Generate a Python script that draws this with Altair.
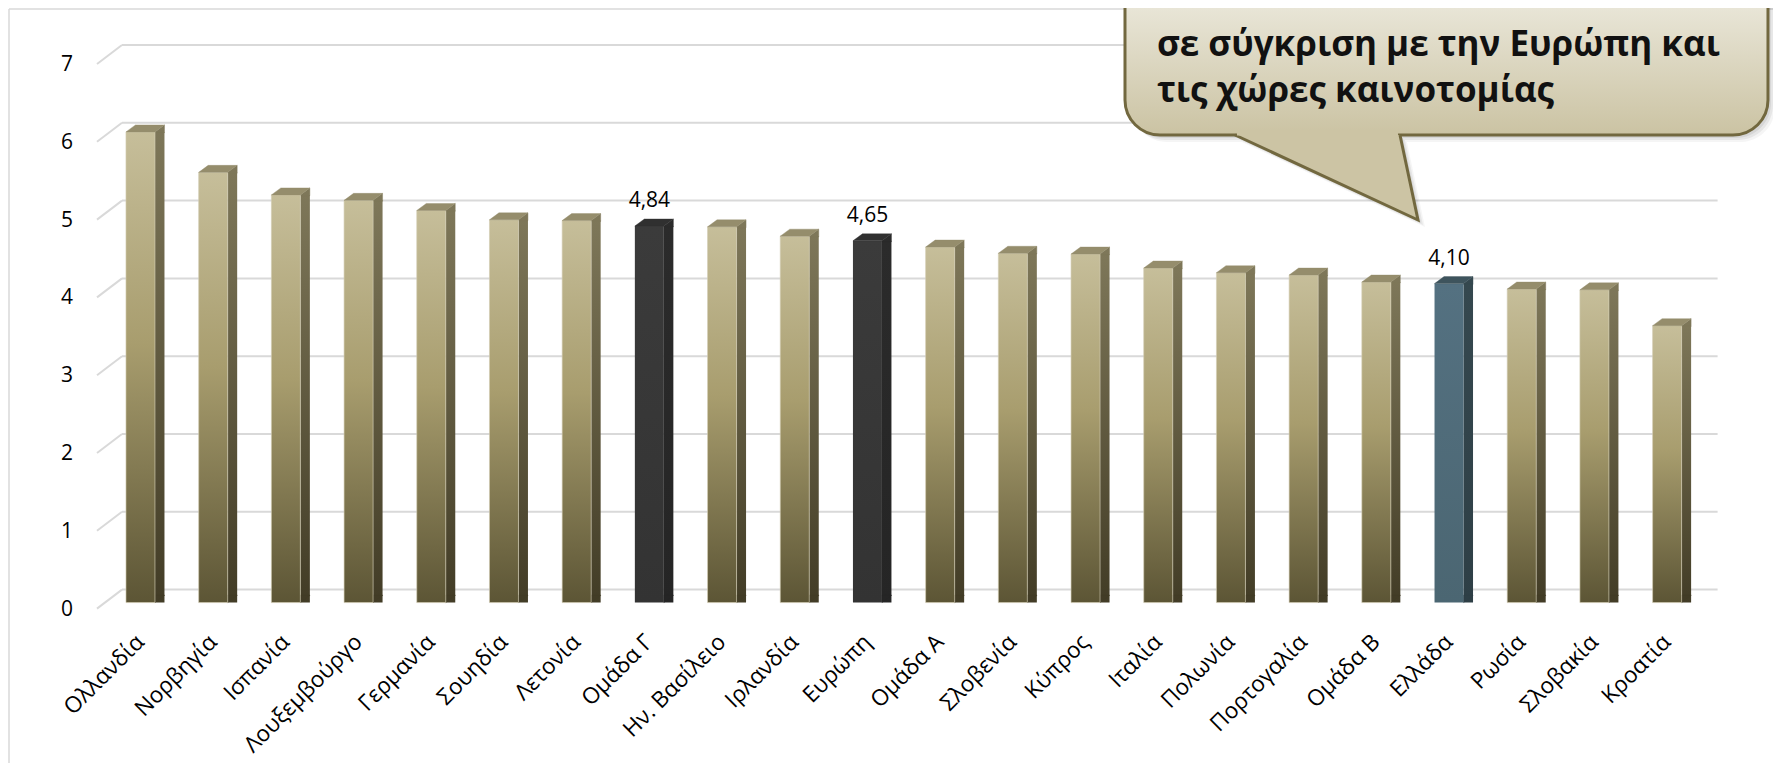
import altair as alt
import pandas as pd

# ---------------- data ----------------
categories = ["Ολλανδία", "Νορβηγία", "Ισπανία", "Λουξεμβούργο", "Γερμανία", "Σουηδία",
              "Λετονία", "Ομάδα Γ", "Ην. Βασίλειο", "Ιρλανδία", "Ευρώπη", "Ομάδα Α",
              "Σλοβενία", "Κύπρος", "Ιταλία", "Πολωνία", "Πορτογαλία", "Ομάδα Β",
              "Ελλάδα", "Ρωσία", "Σλοβακία", "Κροατία"]
values = [6.05, 5.53, 5.24, 5.17, 5.04, 4.92, 4.91, 4.84, 4.83, 4.71, 4.65, 4.57,
          4.49, 4.48, 4.30, 4.24, 4.21, 4.12, 4.10, 4.03, 4.02, 3.56]
kinds = ["country", "country", "country", "country", "country", "country",
         "country", "group", "country", "country", "group", "country",
         "country", "country", "country", "country", "country", "country",
         "greece", "country", "country", "country"]
y_ticks = [0, 1, 2, 3, 4, 5, 6, 7]
callout_lines = ["σε σύγκριση με την Ευρώπη και", "τις χώρες καινοτομίας"]

df = pd.DataFrame({"cat": categories, "value": values, "kind": kinds})
tick_df = pd.DataFrame({"t": y_ticks})
one = pd.DataFrame({"a": [0]})

# ---------------- layout ----------------
W = 1613.6
H = 544.6
FONT = "Open Sans"

kind_domain = ["country", "group", "greece"]
front_stops = {
    "country": [("#c6be9a", 0), ("#a89d6e", 0.45), ("#5c5535", 1)],
    "group": [("#3b3b3b", 0), ("#333333", 1)],
    "greece": [("#547181", 0), ("#4b6672", 1)],
}
side_stops = {
    "country": [("#7e7759", 0), ("#423c26", 1)],
    "group": [("#2b2b2b", 0), ("#252525", 1)],
    "greece": [("#35484f", 0), ("#2e3f46", 1)],
}
top_color = {"country": "#958d6c", "group": "#303030", "greece": "#3e545d"}
side_top_color = {"country": "#7e7759", "group": "#2b2b2b", "greece": "#35484f"}
side_bot_color = {"country": "#423c26", "group": "#252525", "greece": "#2e3f46"}


def grad(stops):
    return {"gradient": "linear", "x1": 0, "y1": 0, "x2": 0, "y2": 1,
            "stops": [{"offset": o, "color": c} for c, o in stops]}


xenc = alt.X("cat:N", sort=None, axis=None,
             scale=alt.Scale(domain=categories, paddingInner=0, paddingOuter=0.098))
yscale = alt.Scale(domain=[0, 7], nice=False, zero=True)
yenc = alt.Y("value:Q", scale=yscale, axis=None)
tick_y = alt.Y("t:Q", scale=yscale, axis=None)

TOP_FACE = "M-0.725,0L0.725,0L1.2,-0.35L-0.25,-0.35Z"
SIDE_TOP = "M0.725,0.04L0.725,0L1.2,-0.35L1.2,0.04Z"
SIDE_BOT = "M0.725,-0.38L1.2,-0.38L1.2,-0.35L0.725,0Z"

layers = []

# back-wall gridlines
layers.append(alt.Chart(tick_df).mark_rule(color="#d9d9d9", strokeWidth=2, yOffset=-13)
              .encode(x=alt.value(25), x2=alt.value(W + 7), y=tick_y))
# side-wall diagonals
layers.append(alt.Chart(tick_df).mark_rule(color="#d9d9d9", strokeWidth=2, yOffset=6, y2Offset=-13)
              .encode(x=alt.value(0), x2=alt.value(25), y=tick_y, y2="t:Q"))
# y labels
layers.append(alt.Chart(tick_df).mark_text(align="right", baseline="middle", dy=7,
                                           fontSize=21, font=FONT, color="#000000")
              .encode(x=alt.value(-24), y=tick_y, text="t:Q"))

for k in kind_domain:
    base = alt.Chart(df).transform_filter(alt.datum.kind == k)
    # side face
    layers.append(base.mark_bar(width=9.5, xOffset=19.25, y2Offset=-7, color=grad(side_stops[k]))
                  .encode(x=xenc, y=yenc))
    layers.append(base.mark_point(shape=SIDE_TOP, size=1600, filled=True, opacity=1,
                                  color=side_top_color[k], stroke=side_top_color[k], strokeWidth=0.4)
                  .encode(x=xenc, y=yenc))
    layers.append(base.transform_calculate(zero="0")
                  .mark_point(shape=SIDE_BOT, size=1600, filled=True, opacity=1,
                              color=side_bot_color[k], stroke=side_bot_color[k], strokeWidth=0.4)
                  .encode(x=xenc, y=alt.Y("zero:Q", scale=yscale, axis=None)))
    # front face
    extra = {}
    if k == "country":
        extra = dict(stroke="#d3cdb3", strokeWidth=0.8, strokeOpacity=0.8)
    layers.append(base.mark_bar(width=29, color=grad(front_stops[k]), **extra)
                  .encode(x=xenc, y=yenc))
    # top face
    layers.append(base.mark_point(shape=TOP_FACE, size=1600, filled=True, opacity=1,
                                  color=top_color[k], stroke=top_color[k], strokeWidth=0.4)
                  .encode(x=xenc, y=yenc))

# value labels
layers.append(alt.Chart(df).transform_filter(alt.datum.kind != "country")
              .transform_calculate(label="replace(format(datum.value, '.2f'), '.', ',')")
              .mark_text(baseline="alphabetic", dy=-19, fontSize=21, font=FONT, color="#000000")
              .encode(x=xenc, y=yenc, text="label:N"))

# category labels
layers.append(alt.Chart(df).mark_text(angle=315, align="right", baseline="middle",
                                      fontSize=22.5, font=FONT, color="#000000")
              .encode(x=xenc, y=alt.value(H + 36), text="cat:N"))

# outer frame
layers.append(alt.Chart(one).mark_rule(color="#d9d9d9", strokeWidth=1.5)
              .encode(x=alt.value(-88), y=alt.value(-49), y2=alt.value(H + 200)))
layers.append(alt.Chart(one).mark_rule(color="#d9d9d9", strokeWidth=1.5)
              .encode(x=alt.value(-88), x2=alt.value(W + 80), y=alt.value(-49)))

# callout shadow
BX1, BX2, BY1, BY2 = 1028, 1671, -110, 77
TAIL = "M0,0L9.15,4.25L8.25,0"
for off, op in [(3, 0.07), (5, 0.06), (7, 0.04)]:
    layers.append(alt.Chart(one).mark_rect(cornerRadius=35, color="#000000", opacity=op)
                  .encode(x=alt.value(BX1 + off), x2=alt.value(BX2 + off),
                          y=alt.value(BY1 + off), y2=alt.value(BY2 + off)))
    layers.append(alt.Chart(one).mark_point(shape=TAIL + "Z", size=1600, filled=True,
                                            color="#000000", opacity=op)
                  .encode(x=alt.value(1138 + off), y=alt.value(77 + off)))

# callout box
box_grad = {"gradient": "linear", "x1": 0, "y1": 0, "x2": 0, "y2": 1,
            "stops": [{"offset": 0.3, "color": "#e9e6d8"}, {"offset": 1, "color": "#cbc3a3"}]}
layers.append(alt.Chart(one).mark_rect(cornerRadius=35, color=box_grad, stroke="#72683f", strokeWidth=3)
              .encode(x=alt.value(BX1), x2=alt.value(BX2), y=alt.value(BY1), y2=alt.value(BY2)))
layers.append(alt.Chart(one).mark_point(shape=TAIL, size=1600, filled=True, fill="#ccc4a4",
                                        stroke="#72683f", strokeWidth=3, opacity=1)
              .encode(x=alt.value(1138), y=alt.value(77)))
layers.append(alt.Chart(one).mark_rect(color="#ccc4a4")
              .encode(x=alt.value(1140), x2=alt.value(1301), y=alt.value(72.5), y2=alt.value(77.6)))
for i, line in enumerate(callout_lines):
    layers.append(alt.Chart(one).mark_text(align="left", baseline="alphabetic", font=FONT,
                                           fontWeight="bold", fontSize=35, color="#111111")
                  .encode(x=alt.value(1060), y=alt.value(-2 + 46 * i), text=alt.value(line)))

chart = alt.layer(*layers).properties(
    width=W, height=H,
    padding={"left": 89, "top": 50, "right": 62, "bottom": 160},
    autosize=alt.AutoSizeParams(type="none"),
    background="#ffffff",
).configure_view(stroke=None)

chart.save("out.html", embed_options={"renderer": "svg", "actions": False})
